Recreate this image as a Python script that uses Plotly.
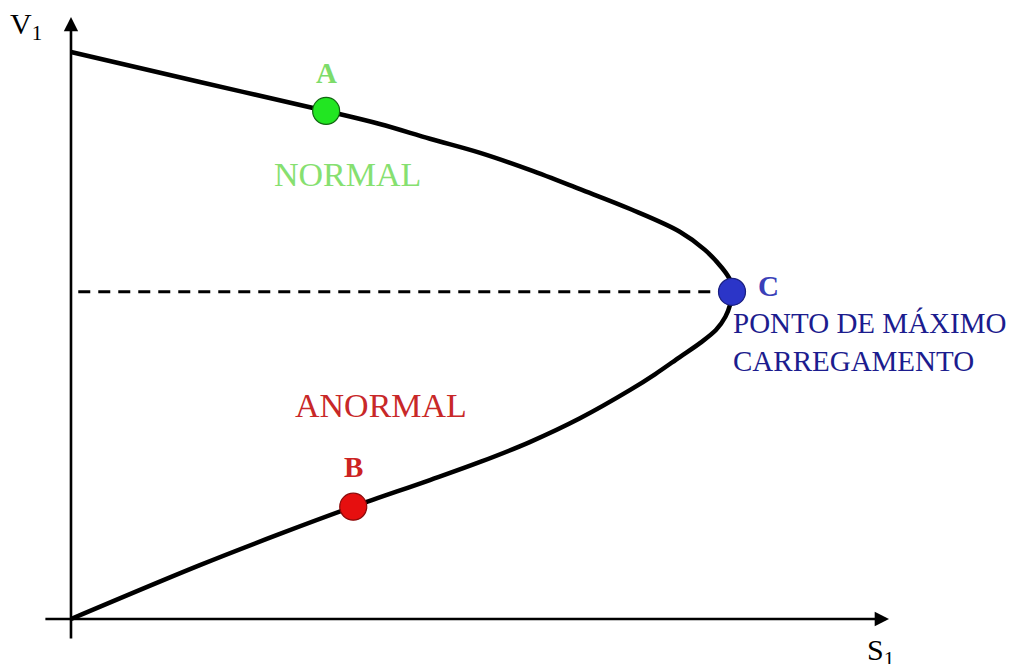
import plotly.graph_objects as go

# P-V curve (nose curve), normalized units: S in fraction of max load, V in pu of no-load voltage
s_upper = [0.0, 0.195, 0.386, 0.467, 0.543, 0.619, 0.694, 0.770, 0.846, 0.921, 0.959, 0.985, 0.997, 1.0]
v_upper = [1.0, 0.947, 0.896, 0.873, 0.847, 0.822, 0.792, 0.758, 0.723, 0.683, 0.651, 0.619, 0.598, 0.577]
s_lower = [0.997, 0.990, 0.976, 0.952, 0.921, 0.884, 0.846, 0.770, 0.694, 0.619, 0.543, 0.427,
           0.316, 0.195, 0.0]
v_lower = [0.554, 0.533, 0.510, 0.487, 0.462, 0.432, 0.404, 0.354, 0.312, 0.277, 0.245, 0.198,
           0.150, 0.095, 0.0]

point_names = ["A", "B", "C"]
point_s = [0.386, 0.427, 1.0]
point_v = [0.896, 0.198, 0.577]
point_colors = ["#22e622", "#e60f0f", "#2b35c8"]
point_lines = ["#116611", "#8a0a0a", "#1a1f80"]

v_critical = 0.577
s_critical = 1.0

serif = "Liberation Serif, Times New Roman, serif"

fig = go.Figure()

# dashed line at critical voltage
fig.add_trace(go.Scatter(
    x=[0.011, s_critical], y=[v_critical, v_critical],
    mode='lines',
    line=dict(color='black', width=3, dash='12px,8px'),
    hoverinfo='skip'
))

# nose curve
fig.add_trace(go.Scatter(
    x=s_upper + s_lower, y=v_upper + v_lower,
    mode='lines',
    line=dict(color='black', width=4.5, shape='spline', smoothing=1.0),
    hoverinfo='skip'
))

# operating points
fig.add_trace(go.Scatter(
    x=point_s, y=point_v,
    mode='markers',
    marker=dict(size=27, color=point_colors, line=dict(color=point_lines, width=1.2)),
    text=point_names,
    hoverinfo='text'
))

annotations = []

# axes with arrows
annotations.append(dict(
    x=1.2375, y=0, ax=-0.041, ay=0, xref='x', yref='y', axref='x', ayref='y',
    text='', showarrow=True, arrowhead=2, arrowsize=1.1, arrowwidth=2.6, arrowcolor='black'
))
annotations.append(dict(
    x=0, y=1.0617, ax=0, ay=-0.037, xref='x', yref='y', axref='x', ayref='y',
    text='', showarrow=True, arrowhead=2, arrowsize=1.1, arrowwidth=2.6, arrowcolor='black'
))

# axis labels
annotations.append(dict(
    x=-0.068, y=1.045, xref='x', yref='y', showarrow=False,
    text='V<sub>1</sub>', font=dict(family=serif, size=30, color='black')
))
annotations.append(dict(
    x=1.225, y=-0.058, xref='x', yref='y', showarrow=False,
    text='S<sub>1</sub>', font=dict(family=serif, size=30, color='black')
))

# point labels
annotations.append(dict(
    x=point_s[0], y=point_v[0], xref='x', yref='y', showarrow=False, yshift=38,
    text='<b>A</b>', font=dict(family=serif, size=29, color='#7ddc6a')
))
annotations.append(dict(
    x=point_s[1], y=point_v[1], xref='x', yref='y', showarrow=False, yshift=40,
    text='<b>B</b>', font=dict(family=serif, size=29, color='#cc2222')
))
annotations.append(dict(
    x=point_s[2], y=point_v[2], xref='x', yref='y', showarrow=False, xshift=36, yshift=6,
    text='<b>C</b>', font=dict(family=serif, size=29, color='#3a3fb8')
))

# region labels
annotations.append(dict(
    x=0.418, y=0.784, xref='x', yref='y', showarrow=False,
    text='NORMAL', font=dict(family=serif, size=34, color='#86e070')
))
annotations.append(dict(
    x=0.469, y=0.376, xref='x', yref='y', showarrow=False,
    text='ANORMAL', font=dict(family=serif, size=34, color='#c82828')
))

# critical point label
annotations.append(dict(
    x=0.999, y=0.488, xref='x', yref='y', showarrow=False, xanchor='left', align='left',
    text='PONTO DE MÁXIMO<br>CARREGAMENTO',
    font=dict(family=serif, size=29, color='#1c1c8e')
))

# page body has an 8px margin, so the figure is 8px smaller than the window
fig.update_layout(
    width=1013, height=656,
    margin=dict(l=0, r=0, t=0, b=0),
    plot_bgcolor='white',
    paper_bgcolor='white',
    showlegend=False,
    xaxis=dict(range=[-0.0953, 1.4372], visible=False),
    yaxis=dict(range=[-0.0794, 1.0776], visible=False),
    annotations=annotations
)

fig.write_html("out.html")
